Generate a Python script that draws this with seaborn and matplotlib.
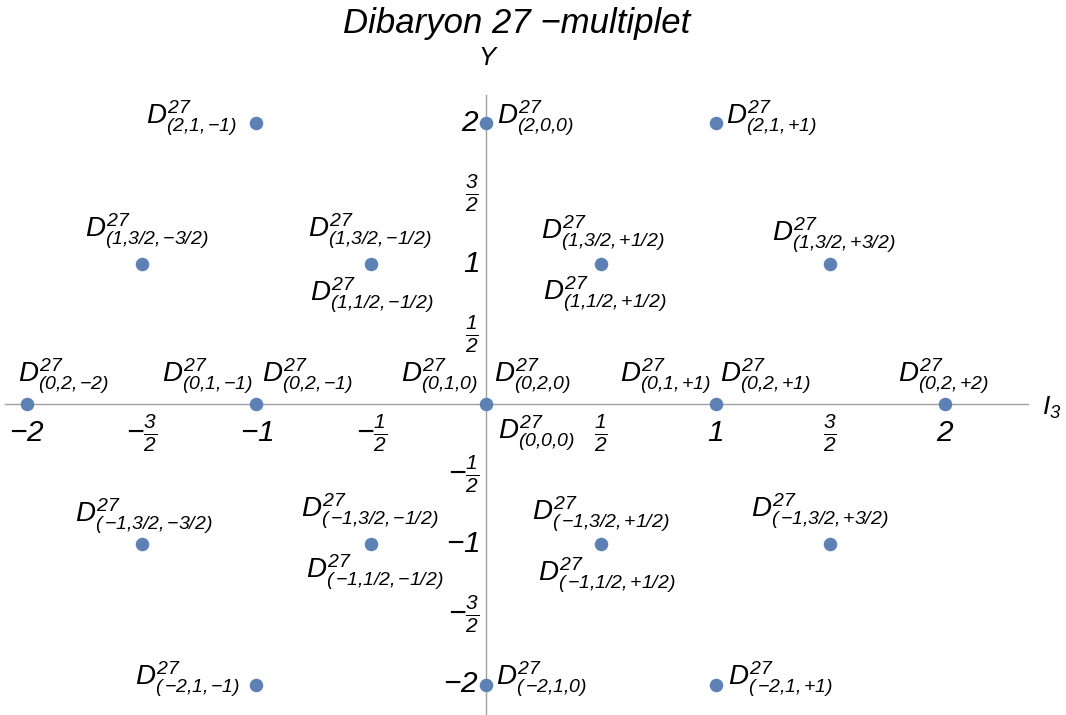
import numpy as np
import pandas as pd
import matplotlib
matplotlib.use("Agg")
import matplotlib.pyplot as plt
import seaborn as sns

# states of the 27-plet: (Y, I, I3) as shown in the labels
state_Y = [2, 2, 2,
           1, 1, 1, 1, 1, 1,
           0, 0, 0, 0, 0, 0, 0, 0, 0,
           -1, -1, -1, -1, -1, -1,
           -2, -2, -2]
state_I = ["1", "0", "1",
           "3/2", "3/2", "1/2", "3/2", "1/2", "3/2",
           "2", "1", "2", "1", "2", "0", "1", "2", "2",
           "3/2", "3/2", "1/2", "3/2", "1/2", "3/2",
           "1", "1", "1"]
state_I3 = ["-1", "0", "+1",
            "-3/2", "-1/2", "-1/2", "+1/2", "+1/2", "+3/2",
            "-2", "-1", "-1", "0", "0", "0", "+1", "+1", "+2",
            "-3/2", "-1/2", "-1/2", "+1/2", "+1/2", "+3/2",
            "-1", "0", "+1"]

tick_vals = [-2, -1.5, -1, -0.5, 0.5, 1, 1.5, 2]
tick_text = [r"$-2$", r"$-\frac{3}{2}$", r"$-1$", r"$-\frac{1}{2}$",
             r"$\frac{1}{2}$", r"$1$", r"$\frac{3}{2}$", r"$2$"]

# label placement: (dx px, dy px, ha) relative to the dot
label_pos = [(-19, 5, "right"), (11, 5, "left"), (11, 5, "left"),
             (5, 32, "center"), (-2, 32, "center"), (0, -32, "center"),
             (2, 30, "center"), (4, -31, "center"), (3, 28, "center"),
             (-9, 28, "left"), (-3, 28, "right"), (6, 28, "left"),
             (-8, 28, "right"), (8, 28, "left"), (12, -29, "left"),
             (-4, 28, "right"), (5, 28, "left"), (-1, 28, "center"),
             (2, 28, "center"), (-1, 33, "center"), (4, -28, "center"),
             (0, 30, "center"), (6, -31, "center"), (-10, 33, "center"),
             (-16, 5, "right"), (10, 5, "left"), (12, 5, "left")]


def frac_value(s):
    s = s.replace("+", "")
    if "/" in s:
        a, b = s.split("/")
        return float(a) / float(b)
    return float(s)


def sub_part(s):
    # keep signs tight like the reference
    s = str(s)
    if s[0] in "+-":
        return r"\,{%s}%s" % (s[0], s[1:])
    return s


df = pd.DataFrame({"Y": state_Y, "I": state_I, "I3": state_I3})
df["x"] = df["I3"].apply(frac_value)
points = df[["x", "Y"]].drop_duplicates()

sns.set_theme(style="white")
plt.rcParams["font.family"] = ["Liberation Sans", "DejaVu Sans"]
plt.rcParams["mathtext.fontset"] = "custom"
plt.rcParams["mathtext.rm"] = "Liberation Sans:italic"
plt.rcParams["mathtext.it"] = "Liberation Sans:italic"
plt.rcParams["mathtext.sf"] = "Liberation Sans:italic"

fig = plt.figure(figsize=(10.66, 7.15), dpi=100)
ax = fig.add_axes([5 / 1066, 0.0, 1023 / 1066, 620 / 715])

sns.scatterplot(data=points, x="x", y="Y", ax=ax, color="#5E81B5",
                s=95, linewidth=0, zorder=3, clip_on=False)

ax.set_xlim(-481 / 229.5, 542 / 229.5)
ax.set_ylim(-311 / 140.25, 309 / 140.25)

axis_col = "#a0a0a0"
for side in ["top", "right"]:
    ax.spines[side].set_visible(False)
for side in ["left", "bottom"]:
    ax.spines[side].set_position(("data", 0))
    ax.spines[side].set_color(axis_col)
    ax.spines[side].set_linewidth(1.0)
    ax.spines[side].set_zorder(1)

ax.set_xticks(tick_vals)
ax.set_xticklabels(tick_text)
ax.set_yticks(tick_vals)
ax.set_yticklabels(tick_text)
ax.tick_params(axis="both", direction="in", length=4, width=0.8,
               color="#888888", labelsize=21.5, labelcolor="black")
ax.tick_params(axis="x", pad=21)
ax.tick_params(axis="y", pad=5)
for lab in ax.get_xticklabels():
    lab.set_va("center")
for lab in ax.get_yticklabels():
    lab.set_va("center")
ax.set_xlabel("")
ax.set_ylabel("")

for (_, row), (dx, dy, ha) in zip(df.iterrows(), label_pos):
    txt = r"$D^{27}_{(%s{,}%s{,}%s)}$" % (sub_part(row["Y"]), row["I"],
                                          sub_part(row["I3"]))
    ax.annotate(txt, xy=(row["x"], row["Y"]), xytext=(dx, dy),
                textcoords="offset pixels", ha=ha, va="center",
                fontsize=20, color="black", annotation_clip=False)

fig.text(517 / 1066, 1 - 24 / 715, "Dibaryon 27 \u2212multiplet",
         fontsize=25, style="italic", color="black", ha="center", va="center")
fig.text(487 / 1066, 1 - 58 / 715, "Y", fontsize=18.5, style="italic",
         color="black", ha="center", va="center")
fig.text(1052 / 1066, 1 - 408 / 715, r"$I_3$", fontsize=19,
         color="black", ha="center", va="center")

fig.savefig("out.png", dpi=100)
